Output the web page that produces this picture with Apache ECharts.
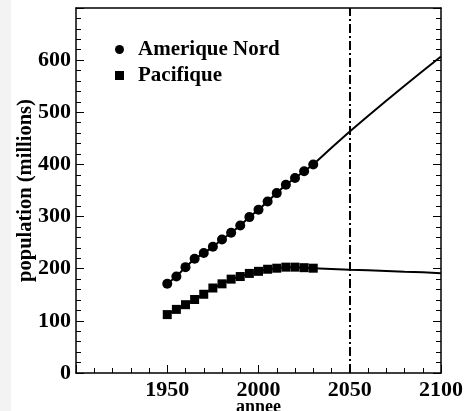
<!DOCTYPE html>
<html>
<head>
<meta charset="utf-8">
<script src="https://cdn.jsdelivr.net/npm/echarts@6/dist/echarts.min.js"></script>
<style>html,body{margin:0;padding:0;background:#fff;}#c{width:464px;height:411px;}</style>
</head>
<body>
<div id="c"></div>
<script>
var years = [1950,1955,1960,1965,1970,1975,1980,1985,1990,1995,2000,2005,2010,2015,2020,2025,2030];
var ameriqueNord = [171,185,203,219,230,242,256,269,283,299,313,329,345,361,374,387,400];
var pacifique = [112,122,131,141,151,163,171,180,185,191,195,199,201,203,203,202,201];
var projYears = [2030,2040,2050,2060,2070,2080,2090,2100];
var ameriqueProj = [400,432,463,493,522,551,579,607];
var pacifiqueProj = [201,199.5,198,197,195.5,194,193,191.5];
var xTickLabels = [1950,2000,2050,2100];
var yTickLabels = [0,100,200,300,400,500,600];
var markYear = 2050;

var font = 'Liberation Serif';
function pairs(xs, ys){ return xs.map(function(x,i){return [x, ys[i]];}); }

var chart = echarts.init(document.getElementById('c'), null, {renderer:'canvas'});
var axisLineStyle = {color:'#000', width:1.5};
chart.setOption({
  backgroundColor:'#fff',
  animation:false,
  graphic:[{type:'rect', left:0, top:0, shape:{width:11, height:411}, style:{fill:'#f3f3f3'}, z:-10}],
  grid:{left:76, right:23, top:8, bottom:38, show:false, containLabel:false, outerBoundsMode:'none'},
  legend:{
    left:110, top:34, orient:'vertical', itemGap:5, itemWidth:9, itemHeight:9,
    data:[{name:'Amerique Nord', icon:'circle'},{name:'Pacifique', icon:'rect'}],
    textStyle:{fontFamily:font, fontWeight:'bold', fontSize:21, color:'#000', padding:[0,0,0,9]}
  },
  xAxis:[{
    type:'value', min:1900, max:2100, interval:50,
    name:'annee', nameLocation:'middle', nameGap:25, nameMoveOverlap:false,
    nameTextStyle:{fontFamily:font, fontWeight:'bold', fontSize:18, color:'#000', verticalAlign:'top'},
    axisLine:{show:true, lineStyle:axisLineStyle},
    axisTick:{show:true, inside:true, length:8, lineStyle:{color:'#000', width:1}},
    minorTick:{show:true, splitNumber:5, length:5, lineStyle:{color:'#000', width:1}},
    splitLine:{show:false},
    axisLabel:{margin:6, fontFamily:font, fontWeight:'bold', fontSize:22, color:'#000',
      formatter:function(v){ return xTickLabels.indexOf(v)>=0 ? String(v) : ''; }}
  },{
    type:'value', min:1900, max:2100, position:'top',
    axisLine:{show:true, onZero:false, lineStyle:axisLineStyle},
    axisTick:{show:false}, axisLabel:{show:false}, splitLine:{show:false}
  }],
  yAxis:[{
    type:'value', min:0, max:700, interval:100,
    name:'population (millions)', nameLocation:'middle', nameGap:40, nameMoveOverlap:false,
    nameTextStyle:{fontFamily:font, fontWeight:'bold', fontSize:20.5, color:'#000'},
    axisLine:{show:true, lineStyle:axisLineStyle},
    axisTick:{show:true, inside:true, length:8, lineStyle:{color:'#000', width:1}},
    minorTick:{show:true, splitNumber:5, length:5, lineStyle:{color:'#000', width:1}},
    splitLine:{show:false},
    axisLabel:{margin:5, fontFamily:font, fontWeight:'bold', fontSize:22, color:'#000',
      formatter:function(v){ return yTickLabels.indexOf(v)>=0 ? String(v) : ''; }}
  },{
    type:'value', min:0, max:700, interval:100, position:'right',
    axisLine:{show:true, onZero:false, lineStyle:axisLineStyle},
    axisTick:{show:true, inside:true, length:8, lineStyle:{color:'#000', width:1}},
    minorTick:{show:true, splitNumber:5, length:5, lineStyle:{color:'#000', width:1}},
    axisLabel:{show:false}, splitLine:{show:false}
  }],
  series:[
    {type:'line', name:'projA', data:pairs(years, ameriqueNord).concat(pairs(projYears.slice(1), ameriqueProj.slice(1))),
      showSymbol:false, symbol:'none', lineStyle:{color:'#000', width:2}, z:2,
      markLine:{silent:true, symbol:'none', label:{show:false},
        lineStyle:{color:'#000', width:2, type:[9,3,2,3]},
        data:[{xAxis:markYear}]}},
    {type:'line', name:'projP', data:pairs(years, pacifique).concat(pairs(projYears.slice(1), pacifiqueProj.slice(1))),
      showSymbol:false, symbol:'none', lineStyle:{color:'#000', width:2}, z:2},
    {type:'scatter', name:'Amerique Nord', data:pairs(years, ameriqueNord), symbol:'circle', symbolSize:10,
      itemStyle:{color:'#000', opacity:1}, z:3},
    {type:'scatter', name:'Pacifique', data:pairs(years, pacifique), symbol:'rect', symbolSize:9,
      itemStyle:{color:'#000', opacity:1}, z:3}
  ]
});
</script>
</body>
</html>
